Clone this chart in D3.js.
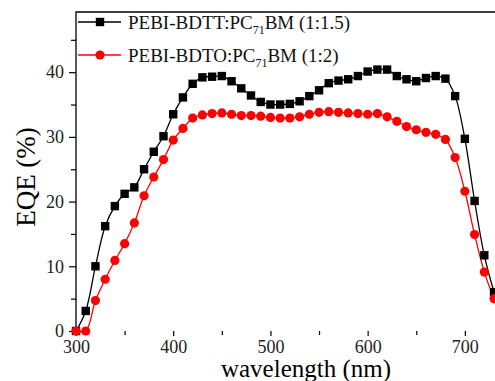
<!DOCTYPE html>
<html>
<head>
<meta charset="utf-8">
<script src="https://cdn.jsdelivr.net/npm/d3@7"></script>
<style>
  body { margin: 0; background: #fff; }
  svg { display: block; }
  text { font-family: "Liberation Serif", "Times New Roman", serif; }
</style>
</head>
<body>
<script>
// wavelength grid (nm)
const wavelength = [300, 310, 320, 330, 340, 350, 360, 370, 380, 390,
  400, 410, 420, 430, 440, 450, 460, 470, 480, 490,
  500, 510, 520, 530, 540, 550, 560, 570, 580, 590,
  600, 610, 620, 630, 640, 650, 660, 670, 680, 690,
  700, 710, 720, 730];

// EQE (%) of the two blends
const eqeBDTT = [0, 3.1, 10.0, 16.2, 19.3, 21.2, 22.2, 25.0, 27.7, 30.1,
  33.5, 36.1, 38.2, 39.2, 39.3, 39.4, 38.6, 37.5, 36.4, 35.4,
  35.0, 35.0, 35.1, 35.5, 36.3, 37.2, 38.3, 38.7, 38.9, 39.4,
  40.1, 40.4, 40.4, 39.4, 38.9, 38.6, 39.1, 39.4, 39.0, 36.3,
  29.7, 20.1, 11.7, 6.0];

const eqeBDTO = [0, 0, 4.7, 8.0, 10.9, 13.5, 16.7, 20.9, 23.8, 26.5,
  29.5, 31.3, 32.9, 33.4, 33.6, 33.7, 33.5, 33.3, 33.3, 33.2,
  33.0, 32.9, 32.9, 33.1, 33.5, 33.8, 33.9, 33.8, 33.7, 33.6,
  33.5, 33.6, 33.1, 32.4, 31.6, 31.1, 30.7, 30.4, 29.6, 26.8,
  21.6, 14.9, 9.1, 5.0];

const xTicks = [300, 400, 500, 600, 700];
const yTicks = [0, 10, 20, 30, 40];

const width = 495, height = 381;
const m = { left: 76, top: 12, bottom: 331, right: 495 };

const svg = d3.select("body").append("svg")
  .attr("width", width)
  .attr("height", height);

const x = d3.scaleLinear().domain([300, 731]).range([m.left, m.right]);
const y = d3.scaleLinear().domain([0, 49.3]).range([m.bottom, m.top]);

// frame
svg.append("path")
  .attr("d", `M${m.right + 1},${m.top}H${m.left}V${m.bottom}`)
  .attr("fill", "none")
  .attr("stroke", "#000")
  .attr("stroke-width", 1.3);

// x axis
const xAxis = svg.append("g")
  .attr("transform", `translate(0,${m.bottom})`)
  .call(d3.axisBottom(x).tickValues(xTicks).tickSize(5).tickPadding(4).tickFormat(d3.format("d")));
xAxis.append("g")
  .call(d3.axisBottom(x).tickValues([350, 450, 550, 650]).tickSize(4).tickFormat(""));

const yAxis = svg.append("g")
  .attr("transform", `translate(${m.left},0)`)
  .call(d3.axisLeft(y).tickValues(yTicks).tickSize(7).tickPadding(5));
yAxis.append("g")
  .call(d3.axisLeft(y).tickValues([5, 15, 25, 35, 45]).tickSize(5).tickFormat(""));

svg.selectAll(".domain").remove();
svg.selectAll(".tick line").attr("stroke", "#000").attr("stroke-width", 1.2);
svg.selectAll(".tick text")
  .attr("fill", "#222")
  .style("font-size", "18px")
  .style("font-family", "'Liberation Serif', serif");

// axis titles
svg.append("text")
  .attr("x", 306).attr("y", 377)
  .attr("text-anchor", "middle")
  .style("font-size", "25px")
  .text("wavelength (nm)");

svg.append("text")
  .attr("transform", "translate(35,177) rotate(-90)")
  .attr("text-anchor", "middle")
  .style("font-size", "27px")
  .text("EQE (%)");

// series
const series = [
  { name: "PEBI-BDTT:PC", sub: "71", tail: "BM (1:1.5)", values: eqeBDTT, color: "#000", shape: "square" },
  { name: "PEBI-BDTO:PC", sub: "71", tail: "BM (1:2)", values: eqeBDTO, color: "#ff0000", shape: "circle" }
];

const line = d3.line()
  .x((d, i) => x(wavelength[i]))
  .y(d => y(d))
  .curve(d3.curveCatmullRom.alpha(0.5));

const plot = svg.append("g");

series.forEach(s => {
  plot.append("path")
    .datum(s.values)
    .attr("d", line)
    .attr("fill", "none")
    .attr("stroke", s.color)
    .attr("stroke-width", 1.3);
});

series.forEach(s => {
  const g = plot.append("g").attr("fill", s.color);
  if (s.shape === "square") {
    g.selectAll("rect")
      .data(s.values)
      .enter().append("rect")
      .attr("x", (d, i) => x(wavelength[i]) - 4.2)
      .attr("y", d => y(d) - 4.2)
      .attr("width", 8.4)
      .attr("height", 8.4);
  } else {
    g.selectAll("circle")
      .data(s.values)
      .enter().append("circle")
      .attr("cx", (d, i) => x(wavelength[i]))
      .attr("cy", d => y(d))
      .attr("r", 4.6);
  }
});

// legend
const legend = svg.append("g");
series.forEach((s, i) => {
  const ly = 22 + i * 33;
  legend.append("line")
    .attr("x1", 78).attr("x2", 121)
    .attr("y1", ly).attr("y2", ly)
    .attr("stroke", s.color)
    .attr("stroke-width", 1.3);
  if (s.shape === "square") {
    legend.append("rect")
      .attr("x", 100 - 4.2).attr("y", ly - 4.2)
      .attr("width", 8.4).attr("height", 8.4)
      .attr("fill", s.color);
  } else {
    legend.append("circle")
      .attr("cx", 100).attr("cy", ly).attr("r", 4.6)
      .attr("fill", s.color);
  }
  const t = legend.append("text")
    .attr("x", 128).attr("y", ly + 7)
    .style("font-size", "19px")
    .attr("fill", "#111");
  t.append("tspan").text(s.name);
  t.append("tspan").attr("dy", 5).style("font-size", "12px").text(s.sub);
  t.append("tspan").attr("dy", -5).text(s.tail);
});
</script>
</body>
</html>
